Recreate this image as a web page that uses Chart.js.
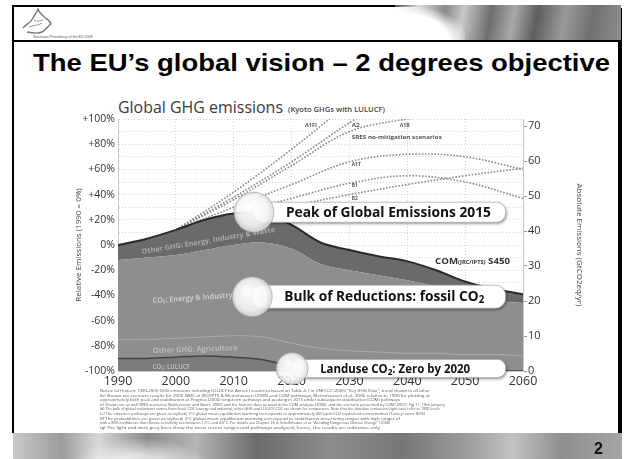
<!DOCTYPE html>
<html><head><meta charset="utf-8">
<script src="https://cdn.jsdelivr.net/npm/chart.js@4.4.0/dist/chart.umd.min.js"></script>
<style>
html,body{margin:0;padding:0;background:#fff;width:625px;height:459px;overflow:hidden;font-family:"Liberation Sans",Arial,sans-serif;}
#slide{position:relative;width:625px;height:459px;background:#fff;}
.abs{position:absolute;}
.fit{white-space:nowrap;transform-origin:0 0;display:inline-block;}
#foot div{white-space:nowrap;transform-origin:0 0;}
</style></head><body><div id="slide">
  <!-- frame -->
  <div class="abs" style="left:12px;top:5px;width:2px;height:428px;background:#000"></div>
  <div class="abs" style="left:12px;top:5px;width:420px;height:2px;background:#000"></div>
  <div class="abs" style="left:618px;top:8px;width:4px;height:425px;background:#000"></div>
  <div class="abs" style="left:395px;top:5px;width:226px;height:35px;background:linear-gradient(100deg,rgba(255,255,255,0) 0%,#d8d8d8 10%,#8a8a8a 22%,#c8c8c8 30%,#6e6e6e 42%,#a8a8a8 52%,#5e5e5e 62%,#9a9a9a 74%,#707070 86%,#8e8e8e 100%)"></div>
  <div class="abs" style="left:395px;top:5px;width:70px;height:35px;background:radial-gradient(ellipse at 0% 100%,#fff 55%,rgba(255,255,255,0) 75%)"></div>
  <div class="abs" style="left:12px;top:40px;width:610px;height:2px;background:#000"></div>
  <svg class="abs" style="left:20px;top:8px" width="34" height="28" viewBox="0 0 34 28">
    <path d="M3 20 C8 14 10 16 13 10 C15 6 17 4 18 1 C19 5 22 6 24 9 C27 11 30 12 31 16 C28 18 26 22 22 24 C18 26 12 25 7 24" fill="none" stroke="#777" stroke-width="1.4"/>
    <path d="M9 19 C13 17 18 18 22 15 M14 12 C17 14 20 13 23 12" fill="none" stroke="#999" stroke-width="1"/>
  </svg>
  <div class="abs" style="left:33px;top:35px;font-size:3.6px;color:#555;white-space:nowrap">Slovenian Presidency of the EU 2008</div>

  <div class="abs fit" id="ttl" style="left:33px;top:51px;font-size:24px;line-height:24px;font-weight:bold;color:#000">The EU’s global vision – 2 degrees objective</div>

  <div class="abs fit" id="ctitle" style="left:118px;top:97px;font-family:'Open Sans',sans-serif;font-size:17px;line-height:20px;color:#3a3a3a">Global GHG emissions</div>
  <div class="abs fit" id="csub" style="left:288px;top:106px;font-family:'Open Sans',sans-serif;font-size:7px;line-height:8px;font-weight:600;color:#444">(Kyoto GHGs with LULUCF)</div>

  <div class="abs" style="left:60px;top:95px;width:530px;height:300px"><canvas id="c" width="530" height="300"></canvas></div>

  <div class="abs" id="foot" style="left:100px;top:389px;font-family:'Open Sans',sans-serif;font-size:4px;line-height:4.6px;color:#555">
    <div data-w="330">Notes: (a) Historic 1990-2005 GHG emissions including LULUCF for Annex I countries based on Table 4.1 in UNFCCC (2005) "Key GHG Data"; trend shown in all other</div>
    <div data-w="330">(b) Shown are scenario results for 2005 GMC at JRC/IPTS &amp; Meinshausen (2006) and COM pathways; Meinshausen et al. 2006 relative to 1990 for plotting at</div>
    <div data-w="300">approximately both peak and stabilisation at Prognos (2006) long-term pathways and peaking in 2015 under subsequent stabilisation (COM) pathways</div>
    <div data-w="345">(c) Shown are as well SRES scenarios (Nakicenovic and Swart, 2000) and the historic data as used in the COM analysis (2006), and the scenario presented by COM (2007), Fig 11, 10th January</div>
    <div data-w="340">(d) The bulk of global reductions comes from fossil CO2 (energy and industry); other GHG and LULUCF CO2 are shown for comparison. Note that the absolute emissions (right axis) refer to 1990 levels</div>
    <div data-w="325">(e) The emission pathways are given as stylised; 2°C global mean equilibrium warming corresponds to approximately 450 ppm CO2 equivalent concentration (Turkey: some 80%)</div>
    <div data-w="300">(f) The probabilities are given as stylised; 2°C global mean equilibrium warming correspond to stabilisation uncertainty ranges with high ranges of</div>
    <div data-w="290">with a 80% confidence that climate sensitivity lies between 1.5°C and 4.5°C. For details see Chapter 26 in Schellnhuber et al. "Avoiding Dangerous Climate Change" (2006)</div>
    <div data-w="280">(g) The light and dark grey lines show the most recent ranges and pathways analysed; hence, the results are indicative only</div>
  </div>

  <!-- footer band -->
  <div class="abs" style="left:13px;top:433px;width:609px;height:26px;background:linear-gradient(90deg,#c9c9c9 0%,#9c9c9c 8%,#d8d8d8 14%,#8a8a8a 22%,#b5b5b5 30%,#6c6c6c 40%,#8c8c8c 52%,#777 64%,#9a9a9a 74%,#c2c2c2 82%,#8f8f8f 90%,#a6a6a6 100%)"></div>
  <div class="abs" style="left:60px;top:433px;width:160px;height:26px;background:radial-gradient(ellipse at 50% 120%,rgba(255,255,255,0.7) 20%,rgba(255,255,255,0) 60%)"></div>
  <div class="abs" style="left:594px;top:440px;font-size:16px;line-height:18px;font-weight:bold;color:#111">2</div>
</div>
<script>
// ---------- data ----------
const years          = [1990,1995,2000,2005,2010,2015,2020,2025,2030,2035,2040,2045,2050,2055,2060];
const lulucfTop      = [-90,-90,-89,-88,-89,-91,-96,-99,-100,-100,-100,-100,-100,-100,-100];
const agricultureTop = [-75,-75,-74,-73,-72,-73,-78,-82,-84,-85,-86,-86,-87,-87,-88];
const co2EnergyTop   = [-12,-10,-8,-4,0,2,-3,-15,-20,-24,-28,-33,-40,-44,-46];
const totalTop       = [0,5,12,20,25,25,16,2,-4,-9,-13,-20,-29,-35,-39];

const rangeYears = [2005,2010,2015,2020,2030,2040,2050,2060];
const rangeUpper = [-88,-87,-86,-84,-83,-83,-84,-85];
const rangeLower = [-92,-93,-94,-93,-92,-92,-92,-92];

const sresYears = [2000,2010,2020,2030,2040,2050,2060];
const sresA1FI  = [12,42,76,113,null,null,null];
const sresA2    = [12,38,66,97,125,null,null];
const sresA1B   = [12,36,63,90,100,106,null];
const sresA1T   = [12,30,48,66,72,70,60];
const sresB1    = [12,25,37,49,55,50,37];
const sresB2    = [12,22,31,40,48,55,61];

const xTickYears   = [1990,2000,2010,2020,2030,2040,2050,2060];
const relTickVals  = [-100,-80,-60,-40,-20,0,20,40,60,80,100];
const absTickVals  = [0,10,20,30,40,50,60,70];

// ---------- fit HTML texts ----------
function fitW(el,w){ const cur=el.getBoundingClientRect().width; el.style.transform='scaleX('+(w/cur)+')'; }
fitW(document.getElementById('ttl'),577);
fitW(document.getElementById('ctitle'),165);
fitW(document.getElementById('csub'),97);
document.querySelectorAll('#foot div').forEach(d=>{ d.style.display='inline-block'; const w=+d.dataset.w; const cur=d.getBoundingClientRect().width; d.style.transform='scaleX('+(w/cur)+')'; d.style.display='block'; d.style.width=cur+'px';});

const FF = '"Open Sans","DejaVu Sans",sans-serif';
const pts = (xs,ys)=>xs.map((x,i)=>({x:x,y:ys[i]}));

function rich(ctx,parts,x,y){ parts.forEach(p=>{ctx.font=p.f; ctx.fillText(p.t,x,y+(p.dy||0)); x+=ctx.measureText(p.t).width;}); }
function richW(ctx,parts){ let w=0; parts.forEach(p=>{ctx.font=p.f; w+=ctx.measureText(p.t).width;}); return w; }

const bandLabels = [
  {x:1994.1,y:-5.6, rot:-9.5, c:'#a9a9a9', parts:[{t:'Other GHG: Energy, Industry & Waste',f:'bold 7px '+FF}], w:135},
  {x:1996.0,y:-44.4,rot:-4, c:'#c9c9c9', parts:[{t:'CO',f:'bold 7.5px '+FF},{t:'2',f:'bold 5px '+FF,dy:1.5},{t:': Energy & Industry',f:'bold 7.5px '+FF}], w:80},
  {x:1996.0,y:-84.1,rot:-2, c:'#b9b9b9', parts:[{t:'Other GHG: Agriculture',f:'bold 7.5px '+FF}], w:85},
  {x:1996.0,y:-96.8,rot:0,  c:'#b9b9b9', parts:[{t:'CO',f:'bold 7px '+FF},{t:'2',f:'bold 5px '+FF,dy:1.5},{t:': LULUCF',f:'bold 7px '+FF}], w:37},
  {x:2044.8,y:-13.5,rot:0,  c:'#333', parts:[{t:'COM',f:'bold 8.5px '+FF},{t:'(JRC/IPTS)',f:'bold 5px '+FF,dy:0.5},{t:' S450',f:'bold 8.5px '+FF}], w:75},
  {x:2022.3,y:94.4, rot:0, c:'#555', parts:[{t:'A1FI',f:'bold 5px '+FF}], w:12},
  {x:2030.4,y:94.4, rot:0, c:'#555', parts:[{t:'A2',f:'bold 5px '+FF}], w:8},
  {x:2038.7,y:94.4, rot:0, c:'#555', parts:[{t:'A1B',f:'bold 5px '+FF}], w:10},
  {x:2030.4,y:85,   rot:0, c:'#555', parts:[{t:'SRES no-mitigation scenarios',f:'bold 5.5px '+FF}], w:90},
  {x:2030.4,y:63.5, rot:0, c:'#555', parts:[{t:'A1T',f:'bold 5px '+FF}], w:9},
  {x:2030.4,y:46.8, rot:0, c:'#555', parts:[{t:'B1',f:'bold 5px '+FF}], w:6},
  {x:2030.4,y:36.5, rot:0, c:'#555', parts:[{t:'B2',f:'bold 5px '+FF}], w:6}
];

const callouts = [
  {cx:2013.5, cy:26,  r:20, end:2057, h:20, w:205, parts:[{t:'Peak of Global Emissions 2015',f:'bold 14px '+FF}]},
  {cx:2013.2, cy:-41, r:20, end:2057, h:23, w:200, parts:[{t:'Bulk of Reductions: fossil CO',f:'bold 14px '+FF},{t:'2',f:'bold 10px '+FF,dy:3}]},
  {cx:2020.1, cy:-98, r:16, end:2057, h:18, w:150, parts:[{t:'Landuse CO',f:'bold 12.5px '+FF},{t:'2',f:'bold 9px '+FF,dy:3},{t:': Zero by 2020',f:'bold 12.5px '+FF}]}
];

function rr(ctx,x,y,w,h,r){ ctx.beginPath(); ctx.moveTo(x+r,y); ctx.lineTo(x+w-r,y); ctx.arcTo(x+w,y,x+w,y+r,r); ctx.lineTo(x+w,y+h-r); ctx.arcTo(x+w,y+h,x+w-r,y+h,r); ctx.lineTo(x+r,y+h); ctx.arcTo(x,y+h,x,y+h-r,r); ctx.lineTo(x,y+r); ctx.arcTo(x,y,x+r,y,r); ctx.closePath(); }

const decor = {
  id:'decor',
  afterDatasetsDraw(chart){
    const ctx=chart.ctx, xs=chart.scales.x, ys=chart.scales.y;
    bandLabels.forEach(b=>{
      ctx.save();
      ctx.translate(xs.getPixelForValue(b.x), ys.getPixelForValue(b.y));
      ctx.rotate(b.rot*Math.PI/180);
      const k=b.w/richW(ctx,b.parts);
      ctx.scale(k,1);
      ctx.fillStyle=b.c; ctx.textBaseline='middle';
      rich(ctx,b.parts,0,0);
      ctx.restore();
    });
  },
  afterDraw(chart){
    const ctx=chart.ctx, xs=chart.scales.x, ys=chart.scales.y;
    callouts.forEach(a=>{
      const cx=xs.getPixelForValue(a.cx), cy=ys.getPixelForValue(a.cy), x2=xs.getPixelForValue(a.end);
      ctx.save();
      ctx.shadowColor='rgba(0,0,0,0.45)'; ctx.shadowBlur=3; ctx.shadowOffsetX=1; ctx.shadowOffsetY=1.5;
      rr(ctx,cx,cy-a.h/2,x2-cx,a.h,a.h*0.45);
      ctx.fillStyle='#fff'; ctx.fill();
      ctx.restore();
      ctx.save();
      rr(ctx,cx,cy-a.h/2,x2-cx,a.h,a.h*0.45);
      ctx.strokeStyle='#b0b0b0'; ctx.lineWidth=0.8; ctx.stroke();
      const g=ctx.createRadialGradient(cx-a.r*0.3,cy-a.r*0.3,1,cx,cy,a.r);
      g.addColorStop(0,'rgba(255,255,255,0.97)'); g.addColorStop(0.75,'rgba(245,245,245,0.9)'); g.addColorStop(1,'rgba(215,215,215,0.88)');
      ctx.beginPath(); ctx.arc(cx,cy,a.r,0,Math.PI*2); ctx.fillStyle=g; ctx.fill();
      ctx.strokeStyle='rgba(150,150,150,0.8)'; ctx.lineWidth=0.7; ctx.stroke();
      ctx.translate(cx+a.r+12,cy);
      const k=a.w/richW(ctx,a.parts); ctx.scale(k,1);
      ctx.fillStyle='#111'; ctx.textBaseline='middle';
      rich(ctx,a.parts,0,0.5);
      ctx.restore();
    });
  }
};

const scen = (d)=>({data:pts(sresYears,d), borderColor:'#8a8a8a', borderWidth:1.6, borderDash:[1.6,1.6], pointRadius:0, fill:false, tension:0.35, spanGaps:false});
const rng  = (d)=>({data:pts(rangeYears,d), borderColor:'#6c6c6c', borderWidth:1.5, borderDash:[1.5,1.5], pointRadius:0, fill:false, tension:0.35});

new Chart(document.getElementById('c'),{
  type:'line',
  data:{datasets:[
    {label:'CO2 LULUCF', data:pts(years,lulucfTop), fill:'start', backgroundColor:'#7b7b7b', borderColor:'#444', borderWidth:1.5, pointRadius:0, tension:0.35},
    {label:'Other GHG: Agriculture', data:pts(years,agricultureTop), fill:'-1', backgroundColor:'#8e8e8e', borderColor:'#a6a6a6', borderWidth:1, pointRadius:0, tension:0.35},
    {label:'CO2 Energy & Industry', data:pts(years,co2EnergyTop), fill:'-1', backgroundColor:'#8e8e8e', borderColor:'rgba(0,0,0,0)', borderWidth:0, pointRadius:0, tension:0.35},
    {label:'Other GHG: Energy, Industry & Waste', data:pts(years,totalTop), fill:'-1', backgroundColor:'#6a6a6a', borderColor:'#2a2a2a', borderWidth:2, pointRadius:0, tension:0.35},
    rng(rangeUpper), rng(rangeLower),
    scen(sresA1FI), scen(sresA2), scen(sresA1B), scen(sresA1T), scen(sresB1), scen(sresB2)
  ]},
  options:{
    responsive:false, animation:false, events:[],
    layout:{padding:{top:24,left:0,right:0,bottom:0}},
    plugins:{legend:{display:false}, tooltip:{enabled:false}},
    scales:{
      x:{type:'linear', min:1990, max:2060,
         afterFit(s){s.height=24;},
         ticks:{stepSize:10, autoSkip:false, maxRotation:0, padding:3, color:'#333', font:{family:FF,size:12.5},
                callback:v=>xTickYears.includes(v)?String(v):''},
         grid:{color:'#d4d4d4', lineWidth:1, drawTicks:false},
         border:{display:true,color:'#c8c8c8',dash:[1,2]}},
      y:{min:-100, max:100, position:'left',
         afterFit(s){s.width=58;},
         ticks:{stepSize:10, autoSkip:false, padding:3, color:'#333', font:{family:FF,size:10.5},
                callback:v=>relTickVals.includes(v)?((v>0?'+':'')+v+'%'):''},
         grid:{color:'#d4d4d4', lineWidth:1, drawTicks:false},
         border:{display:true,color:'#c8c8c8',dash:[1,2]},
         title:{display:true, text:'Relative Emissions (1990 = 0%)', color:'#444', font:{family:FF,size:8}, padding:{top:14,bottom:0}}},
      y2:{min:0, max:72, position:'right',
         afterFit(s){s.width=67;},
         ticks:{stepSize:10, autoSkip:false, includeBounds:false, padding:1, color:'#333', font:{family:FF,size:11},
                callback:v=>absTickVals.includes(v)?String(v):''},
         grid:{drawOnChartArea:false, drawTicks:true, tickLength:4, color:'#999'},
         border:{display:true,color:'#c8c8c8'},
         title:{display:true, text:'Absolute Emissions (GtCO2eq/yr)', color:'#444', font:{family:FF,size:8}, padding:{top:6,bottom:0}}}
    }
  },
  plugins:[decor]
});
</script>
</body></html>
